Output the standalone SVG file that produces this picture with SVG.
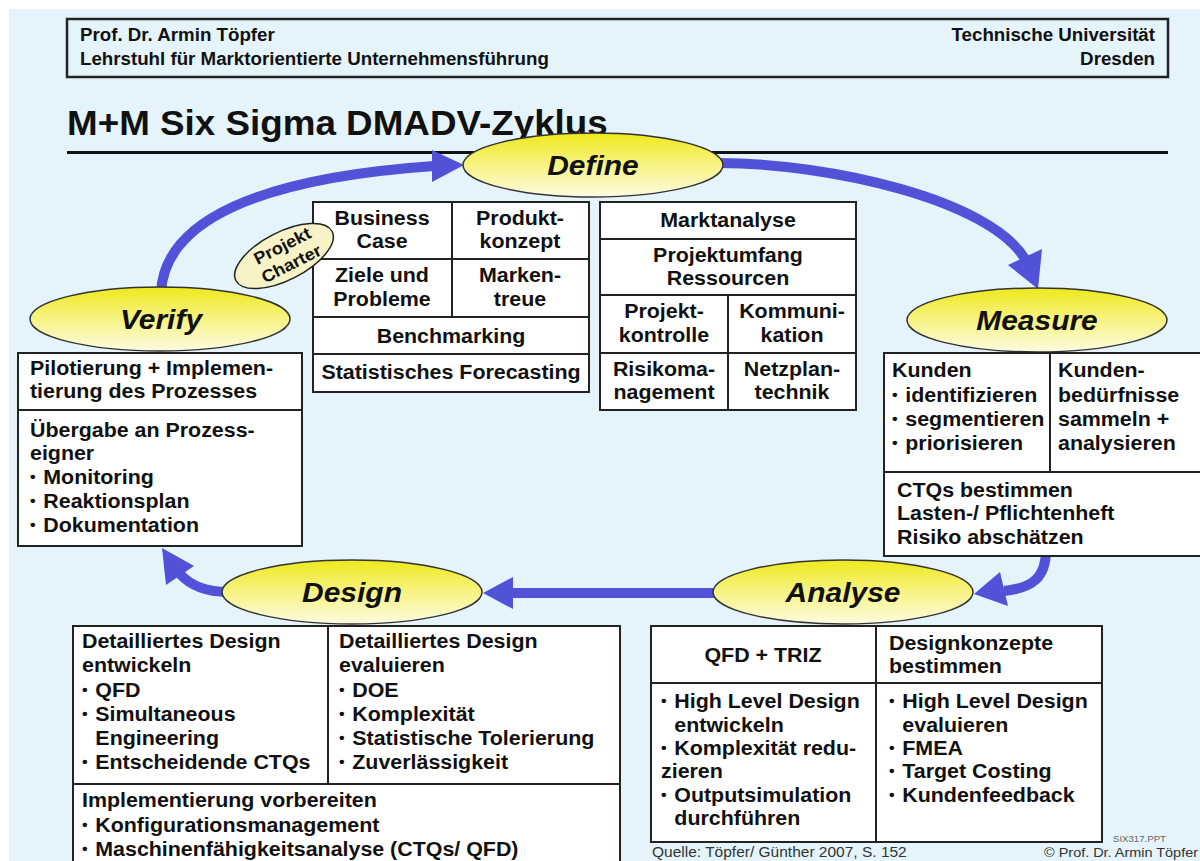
<svg xmlns="http://www.w3.org/2000/svg" width="1200" height="861" viewBox="0 0 1200 861">
<defs>
<linearGradient id="yel" x1="0" y1="0" x2="0" y2="1">
<stop offset="0" stop-color="#efe81a"/>
<stop offset="0.45" stop-color="#f6f27a"/>
<stop offset="1" stop-color="#fdfbe2"/>
</linearGradient>
<style>
.tx{font-family:"Liberation Sans",Arial,sans-serif;font-weight:bold;font-size:20px;fill:#111}
.m{text-anchor:middle}
.e{text-anchor:end}
.ph{font-size:28px;font-style:italic}
.hd{font-size:17.5px}
.ti{font-size:34.4px}
.pc{font-size:17px}
.b{font-size:15px;letter-spacing:1.5px;baseline-shift:2px}
.ft{font-weight:normal;font-size:14.5px;fill:#333}
.sm{font-weight:normal;font-size:9px;fill:#666}
.box{fill:#fff;stroke:#222;stroke-width:2}
.ln{stroke:#222;stroke-width:2;fill:none}
.ell{fill:url(#yel);stroke:#333;stroke-width:1.5}
.arr{fill:none;stroke:#5252d8;stroke-width:10}
.ah{fill:#5252d8}
</style>
</defs>
<rect x="0" y="0" width="1200" height="861" fill="#ffffff"/>
<rect x="9" y="9" width="1191" height="852" fill="#e4f4fa"/>

<g id="header">
<rect x="67" y="19" width="1101" height="58" fill="none" stroke="#222" stroke-width="2.5"/>
<text class="tx hd" transform="translate(80,0) scale(1.07,1)"><tspan x="0" y="41">Prof. Dr. Armin Töpfer</tspan><tspan x="0" y="65">Lehrstuhl für Marktorientierte Unternehmensführung</tspan></text>
<text class="tx hd e" transform="translate(1155,0) scale(1.07,1)"><tspan x="0" y="41">Technische Universität</tspan><tspan x="0" y="65">Dresden</tspan></text>
</g>

<g id="title">
<text class="tx ti" transform="translate(67,0) scale(1.07,1)"><tspan x="0" y="135">M+M Six Sigma DMADV-Zyklus</tspan></text>
<rect x="67" y="151" width="1101" height="3" fill="#111"/>
</g>

<g id="connectors">
<path class="arr" d="M 161 292 C 165 220, 260 178, 434 166"/>
<polygon class="ah" points="464,165 432,150 432,182"/>
<path class="arr" d="M 718 163 C 830 163, 990 200, 1025 259"/>
<polygon class="ah" points="1008,265 1042,249 1038,289"/>
<path class="arr" d="M 1046 550 C 1046 578, 1032 588, 1004 591"/>
<polygon class="ah" points="974,594 1000,572 1008,606"/>
<path class="arr" d="M 716 593 L 510 593"/>
<polygon class="ah" points="483,593 513,577 513,609"/>
<path class="arr" d="M 228 592 C 205 592, 190 585, 180 574"/>
<polygon class="ah" points="162,548 194,566 166,585"/>
</g>

<g id="define-left">
<rect class="box" x="313" y="202" width="276" height="190"/>
<path class="ln" d="M452 202 V317 M313 259 H589 M313 317 H589 M313 354 H589"/>
<text class="tx m" transform="translate(382,0) scale(1.07,1)"><tspan x="0" y="225">Business</tspan><tspan x="0" y="248">Case</tspan><tspan x="0" y="282">Ziele und</tspan><tspan x="0" y="306">Probleme</tspan></text>
<text class="tx m" transform="translate(520,0) scale(1.07,1)"><tspan x="0" y="225">Produkt-</tspan><tspan x="0" y="248">konzept</tspan><tspan x="0" y="282">Marken-</tspan><tspan x="0" y="306">treue</tspan></text>
<text class="tx m" transform="translate(451,0) scale(1.07,1)"><tspan x="0" y="343">Benchmarking</tspan><tspan x="0" y="379">Statistisches Forecasting</tspan></text>
</g>

<g id="projekt-charter" transform="translate(284,256) rotate(-27)">
<ellipse cx="0" cy="0" rx="54" ry="24" fill="#f7f3c6" stroke="#222" stroke-width="1.5"/>
<text class="tx pc m" transform="translate(3,0) scale(1.07,1)"><tspan x="0" y="-4">Projekt</tspan><tspan x="0" y="16">Charter</tspan></text>
</g>

<g id="define-right">
<rect class="box" x="600" y="202" width="256" height="208"/>
<path class="ln" d="M600 239 H856 M600 295 H856 M600 353 H856 M728 295 V410"/>
<text class="tx m" transform="translate(728,0) scale(1.07,1)"><tspan x="0" y="227">Marktanalyse</tspan><tspan x="0" y="262">Projektumfang</tspan><tspan x="0" y="285">Ressourcen</tspan></text>
<text class="tx m" transform="translate(664,0) scale(1.07,1)"><tspan x="0" y="318">Projekt-</tspan><tspan x="0" y="342">kontrolle</tspan><tspan x="0" y="376">Risikoma-</tspan><tspan x="0" y="399">nagement</tspan></text>
<text class="tx m" transform="translate(792,0) scale(1.07,1)"><tspan x="0" y="318">Kommuni-</tspan><tspan x="0" y="342">kation</tspan><tspan x="0" y="376">Netzplan-</tspan><tspan x="0" y="399">technik</tspan></text>
</g>

<g id="define">
<ellipse class="ell" cx="593" cy="165" rx="130" ry="32"/>
<text class="tx ph m" transform="translate(593,0) scale(1.07,1)"><tspan x="0" y="175">Define</tspan></text>
</g>

<g id="verify">
<ellipse class="ell" cx="160" cy="319" rx="130" ry="32"/>
<text class="tx ph m" transform="translate(161,0) scale(1.07,1)"><tspan x="0" y="329">Verify</tspan></text>
</g>

<g id="verify-box">
<rect class="box" x="18" y="353" width="284" height="193"/>
<path class="ln" d="M18 410 H302"/>
<text class="tx" transform="translate(30,0) scale(1.07,1)"><tspan x="0" y="375">Pilotierung + Implemen-</tspan><tspan x="0" y="398">tierung des Prozesses</tspan><tspan x="0" y="437">Übergabe an Prozess-</tspan><tspan x="0" y="460">eigner</tspan><tspan x="0" y="484"><tspan class="b">• </tspan>Monitoring</tspan><tspan x="0" y="508"><tspan class="b">• </tspan>Reaktionsplan</tspan><tspan x="0" y="532"><tspan class="b">• </tspan>Dokumentation</tspan></text>
</g>

<g id="measure">
<ellipse class="ell" cx="1037" cy="320" rx="130" ry="32"/>
<text class="tx ph m" transform="translate(1037,0) scale(1.07,1)"><tspan x="0" y="330">Measure</tspan></text>
</g>

<g id="measure-box">
<rect class="box" x="884" y="353" width="320" height="203"/>
<path class="ln" d="M1050 353 V472 M884 472 H1204"/>
<text class="tx" transform="translate(892,0) scale(1.07,1)"><tspan x="0" y="377">Kunden</tspan><tspan x="0" y="402"><tspan class="b">• </tspan>identifizieren</tspan><tspan x="0" y="426"><tspan class="b">• </tspan>segmentieren</tspan><tspan x="0" y="450"><tspan class="b">• </tspan>priorisieren</tspan></text>
<text class="tx" transform="translate(1058,0) scale(1.07,1)"><tspan x="0" y="377">Kunden-</tspan><tspan x="0" y="402">bedürfnisse</tspan><tspan x="0" y="426">sammeln +</tspan><tspan x="0" y="450">analysieren</tspan></text>
<text class="tx" transform="translate(897,0) scale(1.07,1)"><tspan x="0" y="497">CTQs bestimmen</tspan><tspan x="0" y="520">Lasten-/ Pflichtenheft</tspan><tspan x="0" y="544">Risiko abschätzen</tspan></text>
</g>

<g id="analyse">
<ellipse class="ell" cx="843" cy="592" rx="130" ry="32"/>
<text class="tx ph m" transform="translate(843,0) scale(1.07,1)"><tspan x="0" y="602">Analyse</tspan></text>
</g>

<g id="analyse-box">
<rect class="box" x="651" y="626" width="451" height="216"/>
<path class="ln" d="M876 626 V842 M651 683 H1102"/>
<text class="tx m" transform="translate(763,0) scale(1.07,1)"><tspan x="0" y="662">QFD + TRIZ</tspan></text>
<text class="tx" transform="translate(889,0) scale(1.07,1)"><tspan x="0" y="650">Designkonzepte</tspan><tspan x="0" y="673">bestimmen</tspan></text>
<text class="tx" transform="translate(661,0) scale(1.07,1)"><tspan x="0" y="708"><tspan class="b">• </tspan>High Level Design</tspan><tspan x="12.5" y="732">entwickeln</tspan><tspan x="0" y="755"><tspan class="b">• </tspan>Komplexität redu-</tspan><tspan x="0" y="778">zieren</tspan><tspan x="0" y="802"><tspan class="b">• </tspan>Outputsimulation</tspan><tspan x="12.5" y="825">durchführen</tspan></text>
<text class="tx" transform="translate(889,0) scale(1.07,1)"><tspan x="0" y="708"><tspan class="b">• </tspan>High Level Design</tspan><tspan x="12.5" y="732">evaluieren</tspan><tspan x="0" y="755"><tspan class="b">• </tspan>FMEA</tspan><tspan x="0" y="778"><tspan class="b">• </tspan>Target Costing</tspan><tspan x="0" y="802"><tspan class="b">• </tspan>Kundenfeedback</tspan></text>
</g>

<g id="design">
<ellipse class="ell" cx="352" cy="592" rx="130" ry="32"/>
<text class="tx ph m" transform="translate(352,0) scale(1.07,1)"><tspan x="0" y="602">Design</tspan></text>
</g>

<g id="design-box">
<rect class="box" x="73" y="626" width="547" height="250"/>
<path class="ln" d="M328 626 V784 M73 784 H620"/>
<text class="tx" transform="translate(82,0) scale(1.07,1)"><tspan x="0" y="648">Detailliertes Design</tspan><tspan x="0" y="672">entwickeln</tspan><tspan x="0" y="697"><tspan class="b">• </tspan>QFD</tspan><tspan x="0" y="721"><tspan class="b">• </tspan>Simultaneous</tspan><tspan x="12.5" y="745">Engineering</tspan><tspan x="0" y="769"><tspan class="b">• </tspan>Entscheidende CTQs</tspan><tspan x="0" y="807">Implementierung vorbereiten</tspan><tspan x="0" y="832"><tspan class="b">• </tspan>Konfigurationsmanagement</tspan><tspan x="0" y="856"><tspan class="b">• </tspan>Maschinenfähigkeitsanalyse (CTQs/ QFD)</tspan></text>
<text class="tx" transform="translate(339,0) scale(1.07,1)"><tspan x="0" y="648">Detailliertes Design</tspan><tspan x="0" y="672">evaluieren</tspan><tspan x="0" y="697"><tspan class="b">• </tspan>DOE</tspan><tspan x="0" y="721"><tspan class="b">• </tspan>Komplexität</tspan><tspan x="0" y="745"><tspan class="b">• </tspan>Statistische Tolerierung</tspan><tspan x="0" y="769"><tspan class="b">• </tspan>Zuverlässigkeit</tspan></text>
</g>

<g id="footer">
<text class="tx ft" transform="translate(652,0) scale(1.07,1)"><tspan x="0" y="857">Quelle: Töpfer/ Günther 2007, S. 152</tspan></text>
<text class="tx sm" transform="translate(1113,0) scale(1.07,1)"><tspan x="0" y="842">SIX317.PPT</tspan></text>
<text class="tx ft e" style="font-size:13.5px" transform="translate(1198,0) scale(1.07,1)"><tspan x="0" y="857">© Prof. Dr. Armin Töpfer</tspan></text>
</g>
</svg>
